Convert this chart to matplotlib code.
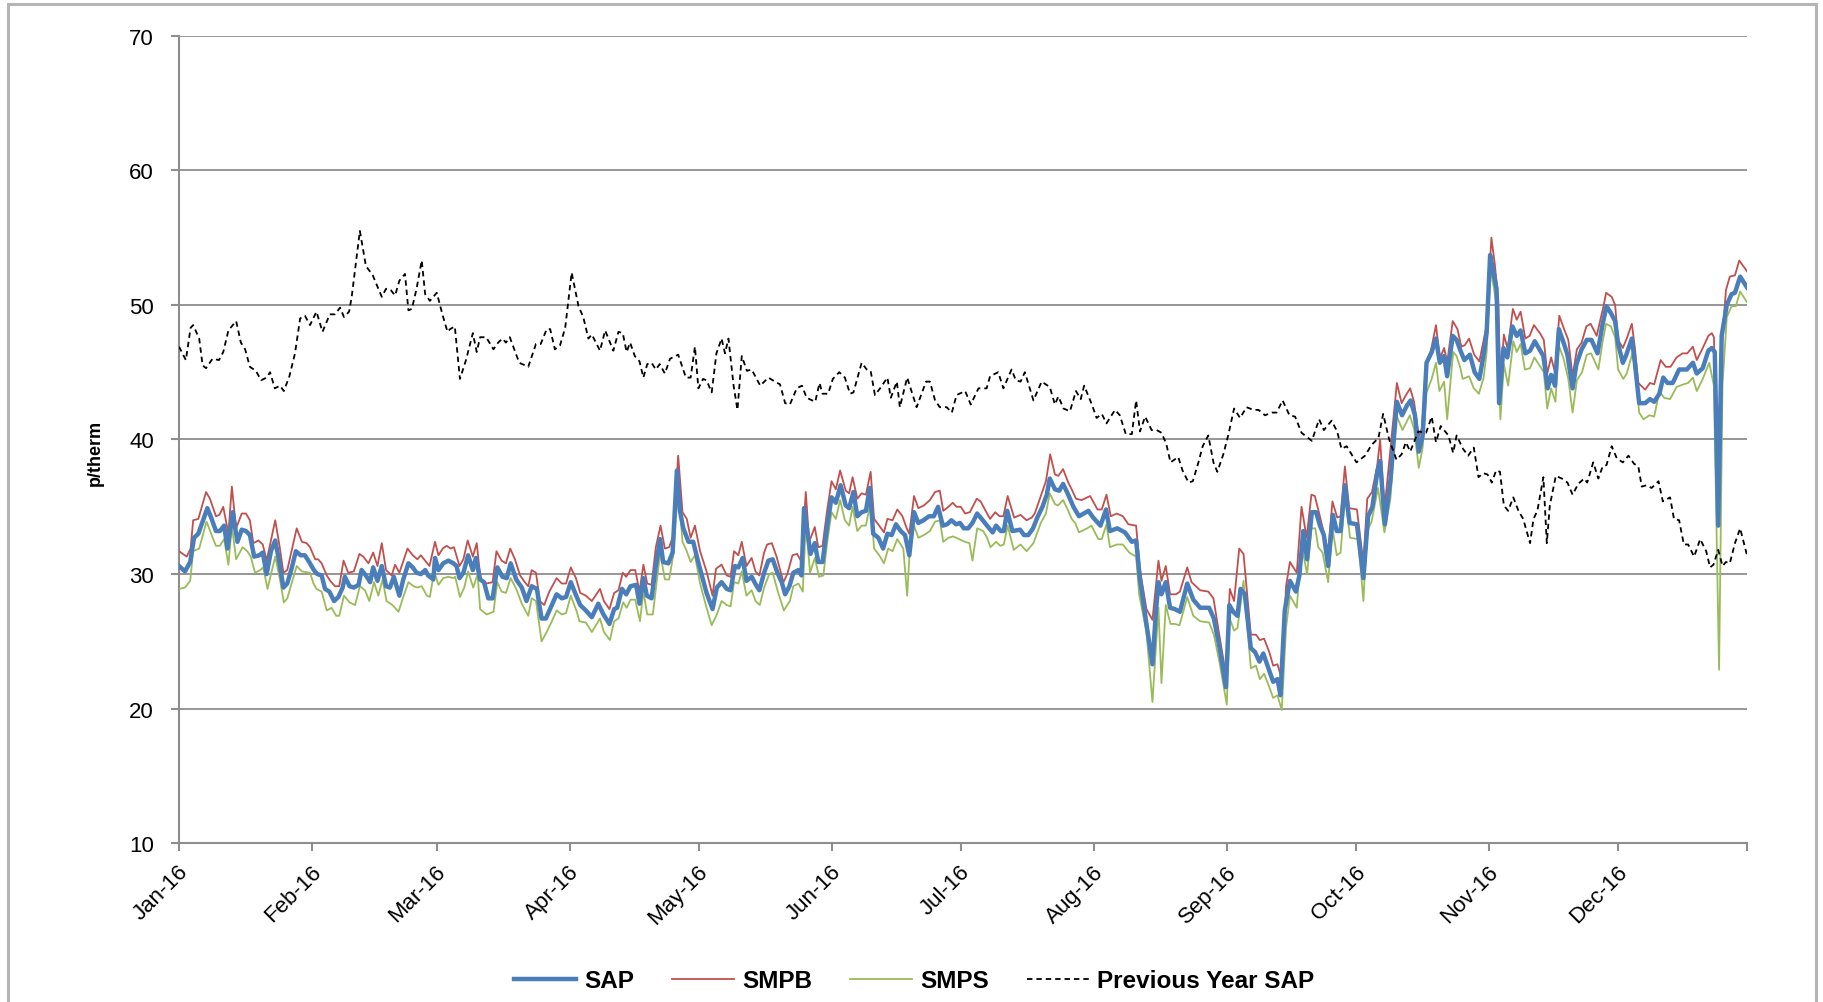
import numpy as np
import matplotlib
matplotlib.use("Agg")
import matplotlib.pyplot as plt
from matplotlib.patches import Rectangle
import matplotlib.transforms as mtransforms

plt.rcParams['font.family'] = ['Liberation Sans', 'DejaVu Sans']

# ---------------- data (day of year 2016, value in p/therm) ----------------
sap_day = [0, 1.4, 2.6, 3.5, 4.5, 5.5, 6.6, 7.6, 8.6, 9.5, 10.5, 11.3, 12.5, 13.6, 14.6, 15.6, 16.5, 17.5, 18.7, 19.5,
           20.4, 21.4, 22.4, 23.4, 24.3, 25.2, 26.2, 27.2, 28.3, 29.3, 30.3, 31.4, 32.2, 33.2, 34.0, 35.0, 36.1, 37.1,
           38.1, 38.6, 39.7, 40.7, 41.8, 42.5, 43.5, 44.5, 45.2, 46.2, 47.2, 48.2, 49.1, 50.0, 51.3, 52.2, 53.4, 54.4,
           55.3, 56.3, 57.3, 58.0, 59.2, 59.6, 60.4, 61.5, 62.7, 63.9, 64.6, 65.3, 66.2, 67.3, 68.4, 69.1, 70.1, 71.0,
           72.0, 73.0, 74.1, 75.3, 76.3, 77.2, 78.5, 79.8, 80.9, 82.1, 83.3, 84.4, 85.4, 86.5, 87.9, 89.1, 90.1, 91.2,
           92.2, 93.4, 94.7, 96.1, 97.6, 98.8, 100.2, 101.3, 102.0, 103.1, 104.1, 105.1, 106.4, 107.2, 108.1, 108.9,
           110.0, 111.0, 112.0, 112.7, 113.9, 114.9, 115.9, 116.6, 117.4, 118.6, 119.7, 120.7, 121.7, 122.8, 124.2,
           125.2, 126.3, 127.5, 128.4, 129.4, 130.2, 131.2, 132.1, 133.3, 134.3, 135.1, 136.2, 137.2, 138.2, 139.3,
           140.3, 141.1, 142.1, 143.0, 144.2, 144.9, 145.5, 146.1, 147.0, 148.0, 148.8, 149.8, 150.9, 151.9, 152.9,
           154.0, 155.2, 156.0, 157.0, 157.9, 158.9, 159.9, 160.8, 161.6, 162.8, 163.9, 164.9, 165.9, 166.9, 168.0,
           169.0, 170.0, 171.1, 172.1, 173.3, 174.6, 175.7, 176.7, 177.8, 178.8, 179.8, 180.9, 181.8, 182.7, 183.7,
           184.7, 185.8, 187.1, 188.1, 189.4, 190.2, 191.3, 192.0, 192.8, 194.0, 195.8, 196.7, 197.7, 198.8, 199.8,
           201.0, 202.0, 202.7, 203.9, 204.9, 205.8, 207.0, 208.2, 209.5, 211.7, 212.8, 214.5, 215.8, 216.7, 218.4,
           220.2, 221.8, 222.8, 223.7, 225.2, 226.6, 227.4, 228.0, 228.7, 229.7, 230.7, 231.8, 233.0, 234.7, 236.1,
           237.7, 239.8, 240.9, 242.3, 243.7, 244.5, 245.4, 246.4, 247.1, 248.1, 249.5, 250.5, 251.5, 252.4, 253.6,
           254.7, 255.7, 256.4, 257.4, 258.6, 260.0, 260.8, 261.7, 262.6, 263.7, 264.7, 265.6, 266.5, 267.5, 268.6,
           269.5, 270.4, 271.4, 272.5, 274.2, 275.7, 276.8, 277.8, 279.0, 279.6, 280.7, 282.0, 283.5, 284.7, 285.8,
           286.7, 287.7, 288.6, 289.5, 290.4, 291.6, 292.6, 293.5, 294.5, 295.2, 296.5, 297.4, 298.3, 299.2, 300.5,
           301.6, 302.7, 303.7, 304.4, 305.2, 306.0, 306.7, 307.3, 308.3, 309.2, 310.4, 311.4, 312.3, 313.4, 314.5,
           315.6, 316.7, 317.6, 318.6, 319.4, 320.3, 321.2, 322.2, 323.2, 324.4, 325.3, 326.5, 327.7, 328.8, 330.2,
           331.4, 332.3, 333.3, 334.3, 335.0, 336.1, 336.8, 338.2, 338.9, 339.9, 341.3, 342.4, 343.4, 344.6, 345.5,
           346.5, 347.7, 349.2, 351.0, 352.4, 353.3, 354.7, 356.0, 356.8, 357.5, 358.3, 359.1, 360.3, 361.4, 362.2,
           363.4, 365.0]
sap_val = [30.6, 30.2, 30.9, 32.7, 33.0, 33.9, 34.9, 34.1, 33.2, 33.2, 33.6, 31.9, 34.6, 32.4, 33.3, 33.2, 32.9, 31.3,
           31.4, 31.6, 30.0, 31.7, 32.5, 30.8, 29.0, 29.3, 30.4, 31.7, 31.4, 31.4, 30.9, 30.3, 30.0, 29.9, 28.9, 28.7,
           28.0, 28.3, 29.0, 29.8, 29.1, 29.0, 29.2, 30.3, 29.9, 29.4, 30.5, 29.5, 30.6, 29.1, 29.0, 29.8, 28.4, 29.6,
           30.8, 30.5, 30.1, 30.0, 30.3, 29.9, 29.6, 31.2, 30.3, 30.8, 31.0, 30.8, 30.6, 29.7, 30.1, 31.4, 30.3, 31.2,
           29.6, 29.4, 28.2, 28.2, 30.5, 29.8, 29.7, 30.8, 29.6, 29.0, 28.0, 29.1, 28.9, 26.7, 26.7, 27.5, 28.5, 28.2,
           28.3, 29.4, 28.6, 27.7, 27.3, 26.8, 27.8, 27.0, 26.3, 27.4, 27.5, 28.9, 28.5, 29.1, 29.2, 27.8, 29.7, 28.4,
           28.2, 30.6, 32.6, 30.9, 30.8, 31.6, 37.7, 34.7, 33.4, 32.4, 32.4, 31.1, 29.9, 28.6, 27.4, 29.0, 29.4, 28.9,
           28.8, 30.6, 30.5, 31.2, 29.5, 29.8, 29.2, 28.8, 30.1, 31.0, 31.1, 30.1, 29.4, 28.5, 29.1, 30.1, 30.3, 29.9,
           34.9, 33.6, 31.5, 32.3, 30.9, 30.9, 33.6, 35.7, 35.3, 36.6, 35.1, 34.9, 36.1, 34.3, 34.6, 34.7, 36.4, 33.0,
           32.7, 31.9, 33.0, 32.9, 33.7, 33.2, 32.9, 31.4, 34.6, 33.8, 34.0, 34.3, 34.3, 35.0, 33.6, 33.7, 34.0, 33.7,
           33.8, 33.4, 33.4, 33.8, 34.5, 34.0, 33.6, 33.1, 33.6, 33.2, 33.2, 34.7, 33.2, 33.3, 32.9, 32.9, 33.4, 34.2,
           35.0, 35.9, 37.1, 36.3, 36.2, 36.7, 35.9, 35.0, 34.3, 34.7, 34.2, 33.6, 34.8, 33.2, 33.4, 33.1, 32.4, 32.5,
           29.6, 26.3, 23.3, 27.2, 29.4, 28.5, 29.4, 27.5, 27.4, 27.2, 29.3, 28.1, 27.5, 27.5, 26.7, 24.4, 21.6, 27.7,
           27.2, 26.9, 28.9, 28.5, 24.5, 24.2, 23.5, 24.1, 23.0, 22.0, 22.2, 21.0, 27.3, 29.5, 28.7, 29.9, 33.2, 31.1,
           34.6, 34.6, 33.6, 32.9, 30.6, 34.4, 33.2, 33.2, 36.6, 33.8, 33.7, 29.7, 34.3, 35.0, 37.7, 38.4, 33.7, 37.0,
           42.8, 41.8, 42.5, 42.9, 41.8, 39.1, 40.3, 45.7, 46.5, 47.5, 45.7, 46.2, 44.7, 47.7, 47.4, 46.6, 45.9, 46.3,
           45.0, 44.5, 46.3, 48.0, 53.7, 52.4, 51.2, 42.7, 46.8, 46.1, 48.4, 47.7, 48.1, 46.4, 46.6, 47.3, 46.7, 46.2,
           43.8, 44.8, 44.0, 48.2, 47.3, 46.3, 43.8, 45.6, 46.7, 47.4, 47.4, 46.4, 48.6, 49.9, 49.4, 48.8, 47.1, 45.7,
           46.2, 47.5, 45.7, 42.7, 42.7, 43.0, 42.8, 43.4, 44.6, 44.2, 44.2, 45.2, 45.2, 45.7, 44.9, 45.3, 46.6, 46.8,
           46.5, 33.6, 47.7, 50.0, 50.8, 50.9, 52.1, 51.3]

smpb_day = [0, 1.8, 2.7, 3.3, 4.5, 6.3, 7.2, 8.6, 9.4, 10.3, 11.5, 12.3, 13.3, 14.6, 15.6, 16.5, 17.3, 18.5, 19.5, 20.4,
            22.4, 23.4, 24.3, 25.2, 27.4, 28.6, 29.7, 30.5, 31.7, 32.4, 33.2, 34.4, 35.2, 36.3, 37.3, 38.3, 39.4, 40.7,
            42.0, 42.9, 44.1, 45.2, 46.2, 47.2, 48.2, 49.5, 50.3, 51.3, 53.2, 54.4, 55.5, 56.3, 57.3, 58.3, 59.6, 60.4,
            61.4, 62.3, 63.2, 64.0, 65.3, 66.2, 67.2, 68.4, 69.3, 70.2, 71.6, 73.0, 73.9, 75.1, 76.1, 77.1, 78.2, 79.4,
            80.5, 81.3, 82.1, 83.1, 84.0, 85.0, 86.2, 87.9, 89.1, 90.1, 91.2, 92.4, 93.4, 94.7, 96.1, 98.0, 98.9, 100.2,
            101.3, 102.3, 103.3, 104.1, 105.1, 106.2, 107.2, 108.1, 109.0, 110.0, 111.0, 112.1, 113.1, 114.1, 115.1,
            116.2, 117.2, 118.2, 119.1, 120.1, 121.3, 122.8, 124.2, 125.0, 126.3, 127.5, 128.4, 129.2, 130.2, 131.0,
            132.1, 133.3, 134.2, 135.1, 136.2, 136.9, 138.0, 139.1, 140.7, 141.6, 142.8, 143.9, 144.9, 145.9, 146.7,
            148.0, 148.8, 149.8, 150.9, 151.9, 152.9, 153.9, 155.2, 156.0, 156.8, 157.9, 158.9, 159.9, 161.0, 161.8,
            163.0, 164.1, 164.9, 166.1, 167.2, 168.4, 169.4, 170.0, 171.1, 172.1, 173.4, 174.8, 176.0, 177.1, 177.9,
            179.1, 180.1, 181.0, 182.0, 183.0, 184.1, 185.7, 186.6, 187.6, 188.8, 190.0, 191.0, 191.9, 192.9, 194.4,
            195.9, 197.3, 198.5, 199.2, 200.4, 201.8, 202.8, 203.9, 204.7, 205.8, 207.0, 207.8, 208.8, 210.1, 212.1,
            213.8, 214.8, 215.9, 216.9, 218.3, 219.7, 221.0, 222.8, 223.7, 225.2, 226.6, 228.0, 228.7, 229.7, 230.7,
            232.1, 233.0, 234.7, 235.7, 237.7, 239.6, 240.8, 242.2, 243.7, 244.6, 245.6, 246.8, 247.8, 249.5, 250.7,
            251.6, 252.6, 253.8, 254.7, 255.7, 256.7, 257.7, 258.6, 260.2, 261.3, 262.5, 263.6, 264.4, 265.5, 267.5,
            268.5, 269.6, 270.4, 271.4, 272.4, 274.2, 275.7, 276.6, 277.7, 278.9, 279.6, 280.6, 281.7, 283.5, 284.6,
            285.6, 286.6, 287.5, 288.6, 289.3, 290.4, 291.3, 292.6, 293.5, 294.5, 295.2, 296.5, 297.6, 298.5, 299.3,
            300.3, 301.5, 302.7, 303.7, 304.4, 305.5, 306.3, 307.1, 307.6, 308.4, 309.3, 310.5, 311.4, 312.3, 313.4,
            314.4, 315.4, 316.8, 317.7, 318.5, 319.4, 320.3, 321.3, 322.3, 323.4, 324.4, 325.4, 326.5, 327.6, 328.6,
            330.0, 331.6, 332.2, 333.5, 334.3, 335.0, 336.1, 337.0, 338.2, 338.9, 339.7, 341.3, 342.4, 343.4, 344.9,
            346.1, 347.2, 348.6, 350.0, 351.1, 352.4, 353.3, 354.7, 356.0, 356.8, 357.3, 358.3, 359.1, 360.1, 361.0,
            362.2, 363.2, 365.0]
smpb_val = [31.7, 31.3, 31.9, 34.0, 34.1, 36.1, 35.6, 34.3, 34.4, 35.0, 33.0, 36.5, 33.4, 34.5, 34.5, 34.0, 32.3, 32.5,
            32.2, 31.0, 34.0, 32.1, 30.1, 30.3, 33.4, 32.4, 32.3, 32.0, 31.1, 31.1, 30.8, 29.9, 29.5, 29.1, 29.1, 31.0,
            30.1, 30.2, 31.5, 31.3, 30.8, 31.6, 30.6, 32.3, 30.3, 29.9, 30.7, 30.1, 31.9, 31.4, 31.1, 31.4, 31.0, 30.6,
            32.4, 31.4, 31.9, 32.1, 31.9, 32.0, 30.6, 31.1, 32.5, 31.3, 32.3, 29.6, 29.3, 29.4, 31.7, 31.0, 30.8, 31.9,
            31.1, 29.9, 29.4, 29.1, 30.3, 30.1, 28.0, 27.7, 28.7, 29.7, 29.3, 29.3, 30.5, 29.7, 28.6, 28.4, 28.0, 28.9,
            28.0, 27.4, 28.6, 28.8, 30.1, 29.8, 30.3, 30.3, 28.7, 30.7, 29.3, 29.2, 32.0, 33.6, 31.9, 32.0, 32.9, 38.8,
            34.6, 34.1, 32.7, 33.6, 31.7, 30.2, 28.4, 30.4, 30.7, 29.9, 29.8, 31.7, 31.4, 32.4, 30.6, 31.2, 30.2, 29.9,
            31.6, 32.2, 32.3, 31.3, 29.4, 30.0, 31.4, 31.5, 30.9, 36.1, 32.4, 33.5, 32.0, 32.1, 34.8, 36.9, 36.3, 37.7,
            36.2, 36.0, 37.2, 35.6, 36.0, 35.9, 37.6, 34.1, 33.6, 33.1, 34.1, 34.0, 34.8, 34.3, 33.4, 33.0, 35.8, 34.9,
            35.1, 35.5, 36.1, 36.2, 34.7, 35.0, 35.3, 35.0, 35.0, 34.5, 34.6, 35.6, 35.4, 34.8, 34.1, 34.6, 34.3, 34.3,
            35.8, 34.2, 34.4, 34.0, 34.2, 34.5, 35.6, 36.9, 38.9, 37.4, 37.3, 37.8, 36.8, 36.3, 35.6, 35.5, 35.8, 34.8,
            34.8, 35.9, 34.3, 34.5, 34.3, 33.7, 33.6, 30.3, 27.4, 26.6, 31.0, 29.5, 30.6, 28.5, 28.5, 28.7, 30.5, 29.4,
            28.8, 28.7, 28.2, 25.4, 22.5, 28.9, 28.0, 31.9, 31.5, 25.5, 25.5, 25.1, 25.2, 24.2, 23.2, 23.3, 22.2, 29.1,
            30.9, 30.1, 35.0, 32.7, 35.9, 35.8, 34.4, 31.7, 35.4, 34.2, 34.3, 38.0, 34.9, 34.8, 30.8, 35.6, 36.1, 38.0,
            40.0, 34.8, 38.3, 44.2, 42.7, 43.3, 43.8, 42.8, 40.2, 40.8, 45.8, 46.4, 48.5, 46.0, 46.8, 45.7, 48.8, 48.2,
            46.9, 47.0, 47.5, 46.3, 45.8, 47.4, 48.5, 55.0, 53.0, 50.4, 44.0, 47.8, 46.7, 49.7, 48.9, 49.5, 47.5, 47.7,
            48.5, 47.9, 47.4, 44.9, 46.1, 45.0, 49.2, 48.3, 47.4, 44.7, 46.7, 47.2, 48.4, 48.6, 47.7, 49.9, 50.9, 50.6,
            50.0, 47.4, 46.8, 47.5, 48.6, 46.8, 44.2, 43.7, 44.2, 44.1, 45.9, 45.4, 45.4, 46.1, 46.4, 46.4, 46.9, 45.9,
            46.8, 47.7, 47.9, 47.6, 34.9, 46.9, 51.1, 52.1, 52.2, 53.3, 52.5]

smps_day = [0, 1.4, 2.6, 3.3, 4.7, 6.4, 7.6, 8.6, 9.5, 10.5, 11.5, 12.3, 13.3, 14.8, 15.9, 16.7, 17.7, 18.9, 19.6, 20.6,
            22.4, 23.5, 24.4, 25.2, 27.4, 28.6, 30.5, 31.3, 32.0, 33.2, 34.4, 35.5, 36.6, 37.3, 38.4, 39.7, 41.0, 42.1,
            43.3, 44.3, 45.4, 46.4, 47.4, 48.3, 49.7, 51.1, 52.2, 53.4, 54.6, 55.5, 56.5, 57.7, 58.4, 59.4, 60.4, 61.5,
            62.7, 63.9, 64.3, 65.4, 66.4, 67.3, 68.5, 69.5, 70.1, 71.6, 73.2, 74.1, 75.1, 76.1, 77.2, 78.5, 79.8, 81.3,
            82.1, 83.1, 84.4, 85.6, 86.8, 87.9, 89.1, 90.1, 91.2, 92.6, 93.2, 94.7, 96.1, 98.0, 98.9, 100.3, 101.3,
            102.3, 103.4, 104.2, 105.1, 106.2, 107.3, 108.1, 109.0, 110.3, 111.2, 112.0, 113.1, 114.1, 115.1, 116.2,
            117.2, 118.2, 119.1, 120.1, 121.3, 122.8, 124.0, 125.2, 126.3, 127.5, 128.4, 129.2, 130.2, 131.0, 132.1,
            133.3, 134.2, 135.2, 136.2, 137.4, 138.2, 139.5, 140.8, 142.2, 143.0, 144.2, 145.2, 145.9, 146.9, 148.0,
            149.0, 150.0, 150.9, 151.9, 152.9, 153.9, 155.0, 156.0, 156.8, 157.9, 158.9, 159.9, 161.0, 161.8, 163.0,
            164.1, 165.1, 166.1, 167.2, 168.6, 169.5, 170.1, 171.1, 172.1, 173.4, 174.8, 176.0, 177.1, 177.9, 179.1,
            180.2, 181.6, 182.9, 184.0, 184.7, 185.8, 187.2, 188.1, 188.9, 190.2, 191.2, 192.0, 192.9, 194.3, 195.9,
            197.3, 198.9, 200.6, 201.8, 202.7, 203.9, 204.6, 205.8, 207.0, 207.8, 208.6, 209.5, 211.4, 212.4, 214.0,
            214.8, 215.9, 216.7, 218.3, 219.7, 221.2, 222.8, 223.5, 225.2, 226.6, 228.0, 228.7, 229.7, 230.8, 231.8,
            232.9, 234.7, 236.1, 237.7, 239.8, 240.9, 242.3, 243.9, 244.6, 245.6, 246.4, 247.8, 249.5, 250.7, 251.6,
            252.6, 253.8, 254.7, 255.7, 256.7, 257.7, 258.6, 260.2, 261.3, 262.6, 263.6, 264.5, 265.2, 266.2, 267.5,
            268.5, 269.5, 270.4, 271.4, 272.6, 274.5, 275.7, 276.6, 277.6, 279.1, 280.6, 282.0, 283.4, 284.8, 285.6,
            286.5, 287.5, 288.6, 289.5, 290.4, 291.6, 292.6, 293.4, 294.5, 295.2, 296.6, 297.4, 298.3, 298.8, 300.3,
            301.4, 302.6, 303.7, 304.4, 305.3, 306.1, 306.8, 307.6, 308.4, 309.4, 310.6, 311.4, 312.3, 313.3, 314.5,
            315.5, 316.7, 317.7, 318.5, 319.4, 320.4, 321.2, 322.3, 323.4, 324.4, 325.4, 326.6, 327.7, 328.7, 330.4,
            331.4, 332.2, 333.3, 334.3, 335.0, 336.2, 337.0, 338.4, 339.3, 339.9, 340.9, 342.3, 343.4, 344.6, 345.7,
            347.1, 348.6, 350.2, 351.3, 352.4, 353.3, 354.7, 356.2, 357.3, 358.5, 359.3, 360.3, 361.4, 362.4, 363.4,
            365.0]
smps_val = [28.9, 29.0, 29.5, 31.7, 31.9, 33.9, 32.9, 32.1, 32.1, 32.6, 30.7, 33.6, 31.1, 32.0, 31.7, 31.3, 30.1, 30.3,
            30.5, 28.9, 31.3, 29.6, 27.9, 28.2, 30.6, 30.2, 30.1, 29.3, 28.9, 28.7, 27.3, 27.5, 26.9, 26.9, 28.4, 27.9,
            27.7, 29.1, 28.8, 28.0, 29.4, 28.4, 29.6, 28.0, 27.7, 27.2, 28.3, 29.4, 29.1, 29.0, 29.1, 28.4, 28.3, 30.2,
            29.2, 29.7, 29.8, 29.7, 29.8, 28.3, 29.0, 30.2, 29.0, 30.0, 27.4, 27.0, 27.2, 29.4, 28.7, 28.6, 29.7, 28.9,
            27.8, 26.9, 28.2, 28.0, 25.0, 25.7, 26.5, 27.3, 27.0, 27.1, 28.4, 27.2, 26.5, 26.4, 25.7, 26.7, 25.7, 25.1,
            26.5, 26.7, 27.9, 27.5, 28.1, 28.1, 26.5, 28.7, 27.0, 27.0, 29.4, 31.6, 29.6, 29.6, 31.5, 36.7, 32.4, 31.7,
            30.9, 31.4, 29.3, 27.5, 26.2, 27.0, 28.0, 27.7, 27.6, 29.4, 29.3, 30.2, 28.4, 28.8, 28.0, 27.7, 29.0, 30.0,
            30.1, 28.6, 27.3, 28.0, 29.1, 29.3, 28.7, 33.8, 30.1, 31.2, 29.8, 29.9, 32.4, 34.6, 34.1, 35.5, 34.0, 33.6,
            35.0, 33.2, 33.6, 33.6, 35.4, 31.9, 31.4, 30.8, 31.9, 31.7, 32.6, 31.9, 28.4, 31.7, 33.6, 32.7, 32.9, 33.2,
            33.9, 34.0, 32.4, 32.7, 32.8, 32.6, 32.4, 32.3, 31.0, 33.4, 33.2, 32.7, 32.0, 32.4, 32.1, 32.2, 33.6, 31.8,
            32.2, 31.7, 32.3, 33.8, 34.5, 36.0, 35.2, 35.1, 35.5, 34.7, 34.1, 33.8, 33.1, 33.4, 33.6, 32.6, 32.6, 33.7,
            32.0, 32.2, 32.2, 31.6, 31.3, 28.5, 25.7, 20.5, 27.5, 21.9, 27.7, 26.3, 26.3, 26.2, 28.3, 26.9, 26.5, 26.4,
            25.5, 23.3, 20.3, 26.7, 25.8, 26.0, 29.5, 23.0, 23.2, 22.2, 22.6, 21.6, 20.8, 21.0, 19.9, 26.0, 28.4, 27.5,
            32.2, 30.0, 33.4, 33.4, 32.0, 31.6, 29.4, 33.4, 31.4, 31.6, 35.8, 32.7, 32.6, 28.0, 33.2, 33.9, 36.4, 33.1,
            35.6, 41.8, 40.7, 41.2, 41.8, 40.8, 37.9, 39.4, 43.5, 44.5, 45.7, 43.6, 44.3, 41.5, 46.5, 46.2, 45.3, 44.5,
            44.7, 43.8, 43.4, 44.6, 46.5, 52.6, 51.2, 49.8, 41.5, 45.6, 44.0, 47.3, 46.5, 47.1, 45.2, 45.3, 46.1, 45.5,
            45.0, 42.3, 43.8, 42.8, 47.0, 46.0, 44.5, 42.0, 44.4, 45.0, 46.3, 46.4, 45.2, 47.3, 48.6, 48.4, 47.6, 45.2,
            44.5, 44.9, 46.5, 44.0, 42.0, 41.5, 41.8, 41.7, 43.6, 43.1, 43.0, 43.9, 44.1, 44.2, 44.6, 43.6, 44.5, 45.7,
            44.0, 22.9, 44.1, 49.1, 49.9, 49.9, 51.0, 50.2]

prev_day = [0, 1.6, 2.7, 3.3, 4.7, 5.5, 6.3, 7.8, 9.3, 10.3, 11.5, 13.3, 14.4, 15.4, 16.5, 17.9, 19.1, 20.4, 21.2, 22.3,
            23.5, 24.4, 25.7, 27.0, 28.2, 29.3, 30.5, 32.0, 33.4, 35.1, 36.3, 37.5, 38.4, 39.6, 40.2, 42.1, 43.5, 45.1,
            47.2, 48.2, 49.3, 50.3, 51.3, 52.6, 53.4, 54.2, 55.3, 56.5, 57.3, 58.4, 60.0, 61.4, 62.5, 63.1, 64.2, 65.4,
            66.8, 68.4, 69.3, 70.1, 71.5, 73.2, 74.3, 75.3, 76.1, 77.0, 79.2, 81.3, 83.1, 84.2, 85.6, 86.4, 87.5, 88.7,
            89.9, 91.4, 93.0, 94.1, 95.3, 96.1, 98.0, 99.2, 101.1, 102.3, 103.3, 104.2, 105.0, 106.1, 107.2, 108.1,
            109.0, 110.0, 111.0, 111.9, 113.1, 114.3, 116.2, 118.0, 119.1, 120.1, 120.9, 122.0, 122.8, 124.0, 125.1,
            126.3, 127.1, 127.9, 129.1, 130.0, 131.0, 132.2, 133.3, 135.3, 137.2, 138.7, 139.9, 141.1, 142.2, 143.8,
            145.0, 146.1, 148.1, 149.1, 149.8, 151.1, 152.2, 153.7, 155.0, 156.2, 157.0, 158.9, 160.1, 161.0, 162.0,
            163.2, 164.9, 165.7, 167.1, 167.8, 169.5, 171.7, 173.9, 174.8, 176.0, 177.1, 178.7, 179.9, 181.0, 183.0,
            184.3, 186.1, 188.0, 188.8, 190.7, 191.9, 193.8, 194.8, 195.9, 196.9, 198.9, 200.8, 202.7, 203.9, 204.7,
            205.9, 207.4, 208.8, 209.9, 210.7, 212.5, 213.6, 214.8, 215.9, 217.9, 219.0, 220.4, 221.8, 222.8, 223.7,
            224.9, 226.4, 227.6, 228.7, 229.8, 230.8, 232.6, 233.6, 235.0, 236.0, 237.3, 238.3, 239.6, 240.8, 241.7,
            243.1, 244.3, 245.6, 247.0, 248.5, 250.1, 251.3, 252.8, 254.4, 255.5, 256.9, 258.5, 259.8, 261.3, 263.7,
            265.4, 266.5, 268.3, 269.6, 270.6, 271.8, 274.1, 276.1, 277.6, 279.2, 280.3, 281.7, 283.4, 284.6, 285.6,
            286.6, 288.5, 290.3, 291.6, 292.6, 293.7, 295.5, 296.6, 297.4, 298.9, 300.1, 301.4, 302.5, 303.6, 304.6,
            305.6, 306.6, 307.5, 308.4, 309.4, 310.6, 311.8, 312.9, 314.5, 315.3, 316.2, 317.6, 318.4, 319.1, 320.5,
            321.9, 323.2, 324.4, 325.7, 327.1, 327.8, 329.2, 330.4, 331.4, 332.3, 333.5, 334.7, 336.1, 337.4, 338.7,
            339.7, 340.5, 341.6, 342.8, 344.4, 345.4, 347.1, 348.0, 349.2, 350.3, 351.3, 352.7, 354.1, 355.5, 356.4,
            357.2, 358.3, 359.3, 360.1, 361.0, 362.2, 363.4, 365.0]
prev_val = [46.9, 45.9, 48.3, 48.5, 47.5, 45.5, 45.3, 46.0, 45.9, 46.5, 48.1, 48.8, 47.2, 46.7, 45.4, 45.1, 44.4, 44.6,
            45.0, 43.8, 44.0, 43.6, 44.7, 46.4, 49.0, 49.2, 48.5, 49.5, 48.0, 49.3, 49.3, 49.8, 49.1, 49.5, 50.6, 55.5,
            52.9, 52.2, 50.6, 51.2, 51.1, 50.7, 51.8, 52.3, 49.6, 49.7, 51.2, 53.3, 50.8, 50.3, 50.9, 49.2, 48.0, 48.2,
            48.4, 44.5, 45.9, 47.9, 46.5, 47.6, 47.6, 46.7, 47.2, 47.5, 47.2, 47.6, 45.7, 45.4, 47.1, 47.1, 48.2, 48.2,
            46.7, 47.0, 48.3, 52.4, 49.9, 49.1, 47.5, 47.8, 46.6, 48.1, 46.6, 48.0, 47.9, 46.5, 47.2, 46.2, 45.8, 44.6,
            45.6, 45.7, 45.2, 45.6, 44.9, 46.0, 46.3, 44.6, 44.6, 46.9, 43.8, 44.5, 44.4, 43.5, 46.4, 47.5, 46.4, 47.5,
            44.0, 42.2, 46.2, 45.1, 45.2, 44.0, 44.6, 44.3, 44.1, 42.7, 42.6, 43.8, 44.0, 43.1, 42.8, 44.2, 43.4, 43.4,
            44.5, 45.0, 44.6, 43.4, 43.5, 45.7, 45.2, 45.1, 43.3, 43.8, 44.6, 43.1, 44.3, 42.4, 44.6, 42.4, 44.3, 44.3,
            42.9, 42.4, 42.4, 42.0, 43.3, 43.6, 42.6, 43.8, 43.8, 44.7, 45.0, 43.8, 45.2, 44.4, 44.3, 45.0, 42.9, 44.3,
            43.9, 42.6, 43.2, 42.3, 42.1, 43.6, 43.0, 44.0, 42.6, 41.6, 41.9, 41.2, 42.2, 41.8, 40.4, 40.4, 42.9, 40.6,
            41.7, 40.7, 40.7, 40.5, 39.7, 38.3, 38.7, 37.7, 36.8, 36.9, 38.3, 39.5, 40.3, 38.3, 37.6, 38.9, 40.4, 42.3,
            41.6, 42.4, 42.2, 42.2, 41.8, 42.0, 42.0, 42.9, 41.8, 41.7, 40.5, 39.9, 41.5, 40.7, 41.4, 40.6, 39.3, 39.5,
            38.3, 38.8, 39.6, 40.1, 41.9, 40.0, 38.5, 38.9, 39.8, 39.1, 40.6, 40.5, 41.7, 39.8, 41.0, 40.3, 39.0, 40.3,
            39.3, 38.8, 39.4, 37.2, 37.5, 37.4, 36.8, 37.7, 37.6, 35.1, 34.7, 35.7, 34.7, 34.1, 32.3, 34.1, 34.7, 37.2,
            32.3, 35.1, 37.3, 37.1, 36.8, 35.9, 36.7, 37.1, 36.8, 38.3, 37.1, 38.0, 38.1, 39.5, 38.6, 38.3, 38.8, 38.2,
            38.0, 36.5, 36.6, 36.4, 36.9, 35.4, 35.7, 34.1, 34.0, 32.2, 32.2, 31.3, 32.6, 31.7, 30.5, 30.7, 31.8, 30.6,
            30.9, 30.8, 32.3, 33.4, 31.4]

month_start_day = [0, 31, 60, 91, 121, 152, 182, 213, 244, 274, 305, 335]
month_labels = ['Jan-16', 'Feb-16', 'Mar-16', 'Apr-16', 'May-16', 'Jun-16',
                'Jul-16', 'Aug-16', 'Sep-16', 'Oct-16', 'Nov-16', 'Dec-16']
year_end_day = 365
y_ticks = [10, 20, 30, 40, 50, 60, 70]

# ---------------- figure ----------------
W, H = 1823, 1003
fig = plt.figure(figsize=(W / 100, H / 100), dpi=100)
ax = fig.add_axes([179 / W, 1 - 844.3 / H, (1747 - 179) / W, (844.3 - 36.7) / H])

grey = '#8e8e8e'
ax.set_ylim(10, 70)
ax.set_xlim(0, year_end_day)
ax.set_yticks(y_ticks)
ax.yaxis.grid(True, color=grey, linewidth=1.3)
ax.set_axisbelow(True)

ax.plot(smps_day, smps_val, color='#9BBB59', lw=1.3, label='SMPS', zorder=3)
ax.plot(smpb_day, smpb_val, color='#C0504D', lw=1.3, label='SMPB', zorder=4)
ax.plot(sap_day, sap_val, color='#4A7EBB', lw=3.2, label='SAP', zorder=5, solid_joinstyle='round')
ax.plot(prev_day, prev_val, color='black', lw=1.3, linestyle=(0, (3, 2.2)),
        label='Previous Year SAP', zorder=6)

for s in ['top', 'right']:
    ax.spines[s].set_visible(False)
for s in ['left', 'bottom']:
    ax.spines[s].set_color(grey)
    ax.spines[s].set_linewidth(1.5)

ax.set_xticks(month_start_day + [year_end_day])
ax.set_xticklabels(month_labels + [''], rotation=45, ha='right', va='center',
                   rotation_mode='anchor', fontsize=16)
ax.tick_params(axis='x', length=6, width=1.5, color=grey, pad=12)
ax.tick_params(axis='y', length=6, width=1.5, color=grey, pad=12, labelsize=16)
offset = mtransforms.ScaledTranslation(6 / 100, 0, fig.dpi_scale_trans)
for lab in ax.get_xticklabels():
    lab.set_transform(lab.get_transform() + offset)

ax.set_ylabel('p/therm', fontsize=13, fontweight='bold')
ax.yaxis.set_label_coords((104 - 179) / 1568, 0.485)

handles, labels = ax.get_legend_handles_labels()
order = [labels.index(n) for n in ['SAP', 'SMPB', 'SMPS', 'Previous Year SAP']]
fig.legend([handles[i] for i in order], [labels[i] for i in order],
           loc='center', bbox_to_anchor=(914 / W, 1 - 982 / H), ncol=4, frameon=False,
           prop={'weight': 'bold', 'size': 17.5}, handlelength=2.55, handletextpad=0.35,
           columnspacing=1.55)

fig.patches.append(Rectangle((8 / W, -0.01), (1816 - 8) / W, 1.01 - 5 / H + 0.0,
                             transform=fig.transFigure, fill=False,
                             edgecolor='#b5b5b5', linewidth=2.2))

fig.savefig('out.png', dpi=100)
